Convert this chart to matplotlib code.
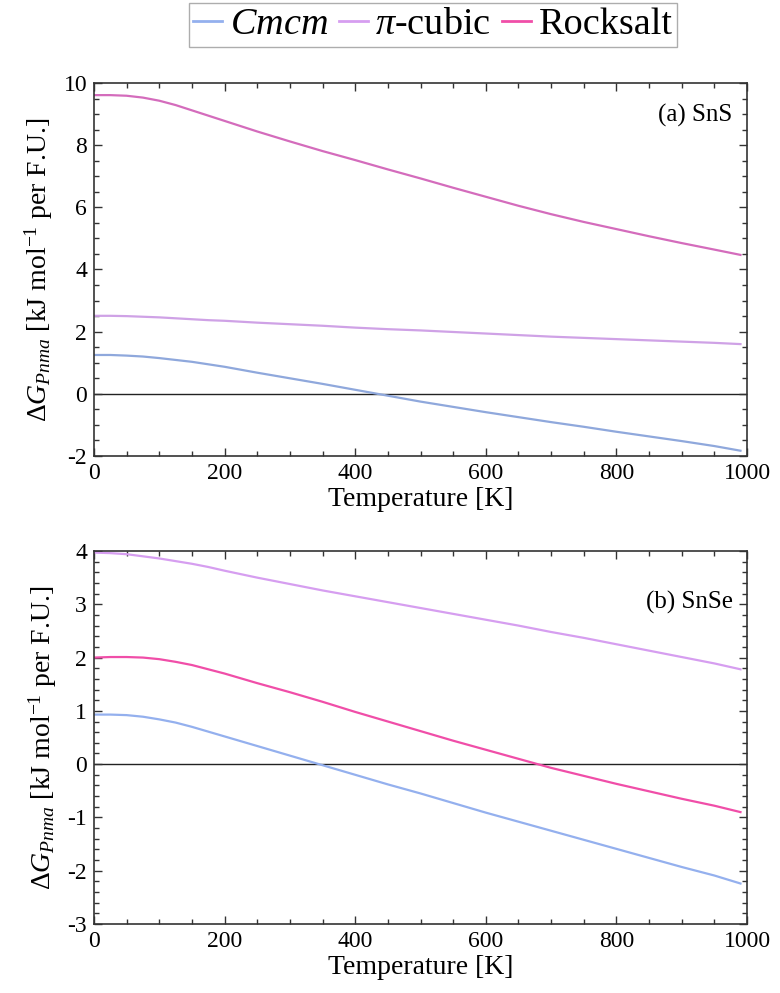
import matplotlib
matplotlib.use("Agg")
import matplotlib.pyplot as plt
from matplotlib.ticker import MultipleLocator

plt.rcParams['font.family'] = ['Liberation Serif', 'DejaVu Serif']
plt.rcParams['mathtext.fontset'] = 'custom'
plt.rcParams['mathtext.rm'] = 'Liberation Serif'
plt.rcParams['mathtext.it'] = 'Liberation Serif:italic'
plt.rcParams['mathtext.bf'] = 'Liberation Serif:bold'
plt.rcParams['axes.unicode_minus'] = False

# ---- data ----
T = [0, 25, 50, 75, 100, 125, 150, 175, 200, 250, 300, 350, 400, 450, 500, 550, 600, 650, 700, 750, 800, 850, 900, 950, 990]

sns_cmcm = [1.25, 1.25, 1.23, 1.20, 1.15, 1.09, 1.03, 0.95, 0.87, 0.68, 0.50, 0.32, 0.13, -0.06, -0.25, -0.42, -0.59, -0.75, -0.91, -1.06, -1.22, -1.37, -1.52, -1.68, -1.83]
sns_pi = [2.51, 2.51, 2.50, 2.48, 2.46, 2.43, 2.40, 2.37, 2.35, 2.29, 2.24, 2.19, 2.13, 2.08, 2.04, 1.99, 1.94, 1.89, 1.84, 1.80, 1.76, 1.72, 1.68, 1.64, 1.60]
sns_rs = [9.61, 9.61, 9.59, 9.53, 9.43, 9.29, 9.12, 8.95, 8.78, 8.44, 8.12, 7.81, 7.52, 7.22, 6.93, 6.63, 6.34, 6.05, 5.78, 5.53, 5.30, 5.07, 4.85, 4.64, 4.47]

snse_cmcm = [0.93, 0.93, 0.92, 0.89, 0.84, 0.78, 0.70, 0.61, 0.52, 0.34, 0.16, -0.02, -0.20, -0.38, -0.55, -0.73, -0.91, -1.08, -1.25, -1.42, -1.59, -1.76, -1.93, -2.09, -2.24]
snse_pi = [3.97, 3.96, 3.94, 3.90, 3.86, 3.81, 3.76, 3.70, 3.63, 3.50, 3.38, 3.26, 3.15, 3.04, 2.93, 2.82, 2.71, 2.60, 2.48, 2.37, 2.25, 2.13, 2.01, 1.89, 1.78]
snse_rs = [2.00, 2.01, 2.01, 2.00, 1.97, 1.92, 1.86, 1.78, 1.70, 1.52, 1.35, 1.17, 0.98, 0.80, 0.62, 0.44, 0.27, 0.10, -0.07, -0.22, -0.37, -0.51, -0.65, -0.78, -0.90]

labels = [r'$Cmcm$', r'$\pi$-cubic', 'Rocksalt']
panel_titles = ['(a) SnS', '(b) SnSe']
ylims = [(-2, 10), (-3, 4)]
ymajor = [2, 1]
yminor = [0.5, 0.2]

colors_a = ['#8fa8dc', '#cfa2e6', '#d46cbc']
colors_b = ['#94b0ee', '#d69ef0', '#f04ea8']

fig = plt.figure(figsize=(7.8, 9.93), dpi=100)
W, H = 780, 993
def ax_rect(l, r, t, b):
    return [l / W, 1 - b / H, (r - l) / W, (b - t) / H]

ax_a = fig.add_axes(ax_rect(94, 747, 83, 456))
ax_b = fig.add_axes(ax_rect(94, 747, 551, 924))

data = [(sns_cmcm, sns_pi, sns_rs), (snse_cmcm, snse_pi, snse_rs)]
cols = [colors_a, colors_b]
text_y = [0.945, 0.893]
handles = []
for i, ax in enumerate([ax_a, ax_b]):
    ax.axhline(0, color='#222222', lw=1.0, zorder=1)
    hs = []
    for series, c, lab in zip(data[i], cols[i], labels):
        h, = ax.plot(T, series, color=c, lw=1.6, label=lab, zorder=2)
        hs.append(h)
    handles.append(hs)
    ax.set_xlim(0, 1000)
    ax.set_ylim(*ylims[i])
    ax.xaxis.set_major_locator(MultipleLocator(200))
    ax.xaxis.set_minor_locator(MultipleLocator(50))
    ax.yaxis.set_major_locator(MultipleLocator(ymajor[i]))
    ax.yaxis.set_minor_locator(MultipleLocator(yminor[i]))
    ax.tick_params(which='both', direction='in', top=True, right=True,
                   color='#333333', width=1.0, labelsize=17, pad=5)
    ax.tick_params(which='major', length=6)
    ax.tick_params(which='minor', length=3.5)
    for s in ax.spines.values():
        s.set_color('#333333')
        s.set_linewidth(1.2)
    ax.set_xlabel('Temperature [K]', fontsize=20, labelpad=2)
    ax.set_ylabel(r'$\Delta G_{Pnma}$ [kJ mol$^{-1}$ per F.U.]', fontsize=20, labelpad=6)
    ax.text(0.978, text_y[i], panel_titles[i], transform=ax.transAxes,
            ha='right', va='top', fontsize=18)

leg = fig.legend(handles[1], labels, loc='upper center',
                 bbox_to_anchor=(433 / W, 1 - 3 / H), ncol=3, fontsize=27.5,
                 frameon=True, fancybox=False, edgecolor='#999999',
                 handlelength=0.75, handletextpad=0.2, columnspacing=0.3,
                 borderpad=0.12, borderaxespad=0)
leg.get_frame().set_linewidth(1.0)
for lh in leg.get_lines():
    lh.set_linewidth(2.0)

fig.savefig('out.png', dpi=100)
